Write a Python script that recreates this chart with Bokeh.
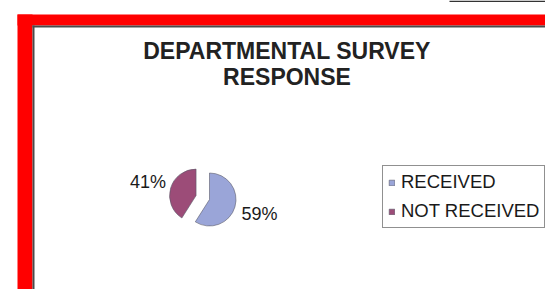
import math
from bokeh.plotting import figure
from bokeh.models import ColumnDataSource, Legend, LegendItem, Range1d
from bokeh.core.properties import value
from bokeh.embed import file_html
from bokeh.resources import INLINE

# ---- data ----
categories = ["RECEIVED", "NOT RECEIVED"]
values = [59, 41]
colors = ["#9AA5D8", "#9C4C78"]
explode = [0, 14]          # px offset of each slice
label_dist = [52, 50]      # px from slice centre to its % label
title_lines = ["DEPARTMENTAL SURVEY", "RESPONSE"]

W, H = 545, 289
p = figure(width=W, height=H, output_backend="svg", toolbar_location=None,
           x_range=Range1d(0, W), y_range=Range1d(0, H),
           min_border=0, outline_line_color=None, background_fill_color="white",
           border_fill_color="white")
p.axis.visible = False
p.grid.visible = False

# ---- slide frame (red border with dark inner edge) ----
p.quad(left=[17, 17], right=[32, W], bottom=[0, 264], top=[275, 275],
       fill_color="#FF0000", line_color=None)
p.quad(left=[32, 32], right=[34, W], bottom=[0, 262], top=[264, 264],
       fill_color="#4A4A4A", line_color=None)
p.quad(left=[449], right=[W], bottom=[287.5], top=[289],
       fill_color="#333333", line_color=None)

# ---- title ----
p.text(x=[286.5, 286.5], y=[239, 212.5], text=title_lines,
       text_font=value("Liberation Sans"), text_font_style="bold",
       text_font_size="23px", text_color="#222222",
       text_align="center", text_baseline="middle")

# ---- pie ----
cx, cy = 209, 90
total = float(sum(values))
starts, ends, xs, ys, lx, ly, labels = [], [], [], [], [], [], []
ang = math.pi / 2
for v, e, d in zip(values, explode, label_dist):
    sweep = 2 * math.pi * v / total
    s, en = ang - sweep, ang
    ang = s
    mid = (s + en) / 2
    x0 = cx + e * math.cos(mid)
    y0 = cy + e * math.sin(mid)
    starts.append(s); ends.append(en); xs.append(x0); ys.append(y0)
    lx.append(x0 + d * math.cos(mid)); ly.append(y0 + d * math.sin(mid))
    labels.append(f"{round(100 * v / total)}%")

src = ColumnDataSource(dict(x=xs, y=ys, start=starts, end=ends,
                            color=colors, cat=categories))
r = p.wedge(x="x", y="y", radius=26.5, radius_units="screen",
            start_angle="start", end_angle="end", direction="anticlock",
            fill_color="color", line_color="#5A5A6A", line_width=0.6,
            source=src)

p.text(x=lx, y=ly, text=labels, text_font=value("Liberation Sans"),
       text_font_size="18px", text_color="#1A1A1A",
       text_align="center", text_baseline="middle")

# ---- legend ----
legend = Legend(items=[LegendItem(label=categories[i], renderers=[r], index=i)
                       for i in range(len(categories))],
                location=(382, 61), margin=0, padding=5, spacing=7,
                label_height=20, glyph_width=7, glyph_height=7,
                label_standoff=6,
                label_text_font="Liberation Sans", label_text_font_size="18.5px",
                label_text_color="#1A1A1A",
                border_line_color="#222222", border_line_width=1,
                background_fill_color="white", background_fill_alpha=1)
p.add_layout(legend)

open("out.html", "w").write(file_html(p, INLINE))
